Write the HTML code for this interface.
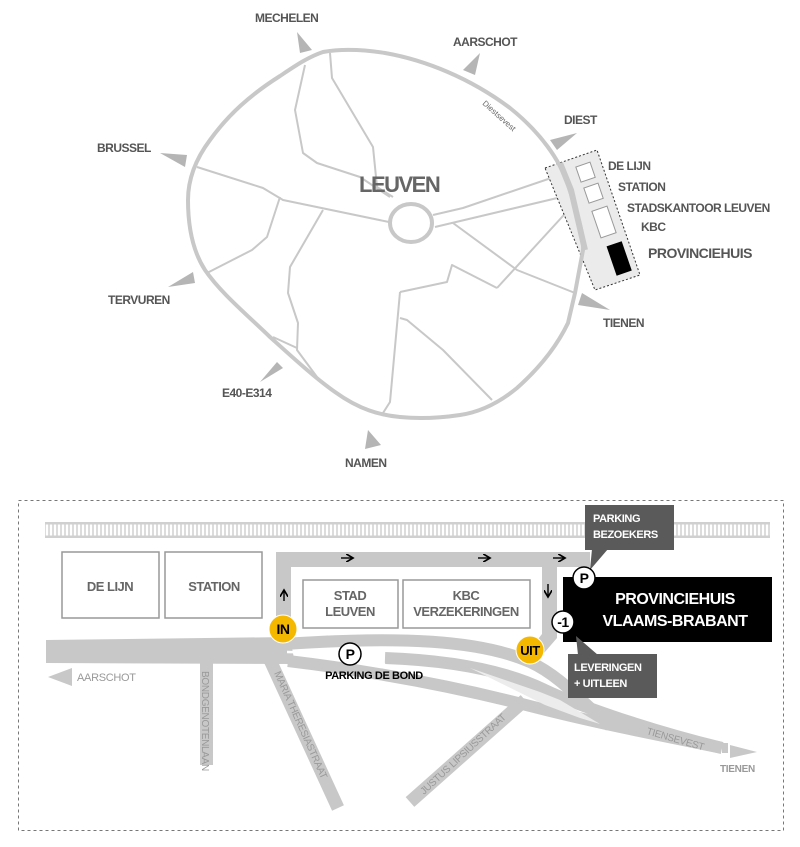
<!DOCTYPE html>
<html><head><meta charset="utf-8"><style>
html,body{margin:0;padding:0;background:#fff;}
svg{display:block;font-family:"Liberation Sans",Arial,sans-serif;}
</style></head><body>
<svg width="800" height="847" viewBox="0 0 800 847" xmlns="http://www.w3.org/2000/svg">
<defs>
<pattern id="rail" width="4" height="10" patternUnits="userSpaceOnUse"><rect width="4" height="10" fill="#fff"/><rect x="0" width="2" height="10" fill="#dcdcdc"/></pattern>
<marker id="ah" markerWidth="6" markerHeight="6" refX="5" refY="3" orient="auto"><path d="M0,0 L5,3 L0,6" fill="none" stroke="#000" stroke-width="1.2"/></marker>
</defs>
<!-- TOP MAP -->
<g fill="none" stroke="#c8c8c8" stroke-width="2" stroke-linejoin="round">
<polyline points="330,53 332,78 373,147 377,187 393,197"/>
<polyline points="305,65 295,110 303,153 317,163 360,177 390,197"/>
<polyline points="197,167 263,188 283,200 389,222"/>
<polyline points="280,197 267,237 252,250 207,273"/>
<polyline points="323,210 290,267 288,293 298,323 297,350 317,377"/>
<polyline points="273,337 297,348"/>
<polyline points="433,215 463,208 560,175"/>
<polyline points="435,227 570,195"/>
<polyline points="453,223 517,270 575,293"/>
<polyline points="497,288 573,205"/>
<polyline points="400,292 447,282 452,265 497,288"/>
<polyline points="400,292 390,402 383,413"/>
<polyline points="400,318 407,320 443,350 492,400"/>
</g>
<polygon points="545,168 597,150 640,275 595,290" fill="#ebebeb" stroke="#333" stroke-width="1" stroke-dasharray="2,2"/>
<path d="M323,52 C340,49 360,49 385,53 C425,60 470,78 510,108 C540,132 560,160 568,185 C576,210 584,232 583,250 L575,293 L568,323 C555,350 535,372 517,388 C500,402 480,412 460,415 C440,418 420,419 400,417 C380,415 360,410 335,392 C315,378 290,355 270,337 C245,313 220,292 205,270 C192,250 188,225 188,200 C188,180 195,160 210,140 C228,115 250,95 280,76 C295,66 308,57 323,52 Z" fill="none" stroke="#c8c8c8" stroke-width="4"/>
<polyline points="560,163 571,190 585,250" fill="none" stroke="#c8c8c8" stroke-width="6"/>
<ellipse cx="411" cy="223" rx="21" ry="19" fill="none" stroke="#c8c8c8" stroke-width="4"/>
<g transform="rotate(-19 586 172)"><rect x="578" y="164" width="15" height="16" fill="#fff" stroke="#999"/></g>
<g transform="rotate(-19 594 193)"><rect x="586" y="185" width="15" height="16" fill="#fff" stroke="#999"/></g>
<g transform="rotate(-19 604 222)"><rect x="596" y="208" width="16" height="28" fill="#fff" stroke="#999"/></g>
<g transform="rotate(-19 619 258)"><rect x="611" y="243" width="16" height="31" fill="#000"/></g>
<g fill="#b5b5b5">
<polygon points="297,32 312,50 300,53"/>
<polygon points="480,53 475,75 463,70"/>
<polygon points="577,133 557,150 550,140"/>
<polygon points="160,153 187,155 185,167"/>
<polygon points="193,272 195,283 168,287"/>
<polygon points="277,362 283,368 260,382"/>
<polygon points="368,430 381,445 365,449"/>
<polygon points="582,293 610,310 578,305"/>
</g>
<text x="359" y="192" font-size="22" font-weight="bold" fill="#666" letter-spacing="-1.5">LEUVEN</text>
<text x="482" y="104" font-size="8" fill="#666" transform="rotate(42 482 104)">Diestsevest</text>
<g font-size="12" font-weight="bold" fill="#555" letter-spacing="-0.5">
<text x="255" y="22">MECHELEN</text>
<text x="453" y="46">AARSCHOT</text>
<text x="564" y="124">DIEST</text>
<text x="97" y="152">BRUSSEL</text>
<text x="108" y="304">TERVUREN</text>
<text x="222" y="397">E40-E314</text>
<text x="345" y="467">NAMEN</text>
<text x="603" y="327">TIENEN</text>
<text x="608" y="170">DE LIJN</text>
<text x="618" y="191">STATION</text>
<text x="627" y="212">STADSKANTOOR LEUVEN</text>
<text x="641" y="231">KBC</text>
<text x="648" y="258" font-size="14">PROVINCIEHUIS</text>
</g>
<!-- BOTTOM MAP -->
<rect x="18.5" y="500.5" width="765" height="330" fill="none" stroke="#777" stroke-dasharray="3,3"/>
<rect x="45" y="522" width="725" height="16" fill="url(#rail)"/>
<rect x="45" y="522" width="725" height="2.5" fill="#d0d0d0"/>
<rect x="45" y="535.5" width="725" height="2.5" fill="#d0d0d0"/>
<g fill="#fff" stroke="#999" stroke-width="1.5">
<rect x="62" y="552" width="97" height="66"/>
<rect x="165" y="552" width="97" height="66"/>
<rect x="303" y="580" width="95" height="48"/>
<rect x="403" y="580" width="127" height="48"/>
</g>
<g fill="#c8c8c8">
<rect x="276" y="552" width="314" height="15"/>
<rect x="276" y="552" width="15" height="90"/>
<polygon points="542,552 557,552 557,638 538,660 528,652 542,634"/>
<rect x="200" y="660" width="13" height="105"/>
<polygon points="46,640 290,637 295,664 46,663"/>
</g>
<g fill="none" stroke="#c8c8c8" stroke-linecap="butt">
<line x1="270" y1="660" x2="338" y2="808" stroke-width="13"/>
<line x1="410" y1="802" x2="525" y2="700" stroke-width="13"/>
<path d="M285,644 C400,636 480,640 530,662 C560,676 580,700 610,726" stroke-width="12"/>
<path d="M288,661 C380,672 460,688 530,706 C600,724 660,735 722,748" stroke-width="12"/>
<path d="M385,658 C440,660 500,668 545,690 C570,702 640,728 722,748" stroke-width="12"/>
</g>
<polygon points="470,668 540,692 560,700 600,724 580,718 545,705" fill="#ececec"/>
<path d="M287,652 L380,654" stroke="#fff" stroke-width="2.5"/>
<path d="M385,650 C378,652 378,662 385,664" fill="none" stroke="#fff" stroke-width="2"/>
<polygon points="722,743 722,753 728,753 728,743" fill="#c8c8c8"/>
<polygon points="48,677 72,668 72,686" fill="#c8c8c8"/>
<polygon points="730,745 757,752 730,758" fill="#c8c8c8"/>
<g font-size="10" fill="#999" letter-spacing="-0.3">
<text x="77" y="681" font-size="11">AARSCHOT</text>
<text x="720" y="772" font-size="10" font-weight="bold">TIENEN</text>
<text x="646" y="734" transform="rotate(16 646 734)">TIENSEVEST</text>
<text x="202" y="671" transform="rotate(90 202 671)">BONDGENOTENLAAN</text>
<text x="274" y="673" transform="rotate(66 274 673)">MARIA THERESIASTRAAT</text>
<text x="424" y="795" transform="rotate(-43 424 795)">JUSTUS LIPSIUSSTRAAT</text>
</g>
<g font-size="13" font-weight="bold" fill="#666" text-anchor="middle" letter-spacing="-0.5">
<text x="110" y="591">DE LIJN</text>
<text x="214" y="591">STATION</text>
<text x="350" y="600">STAD</text>
<text x="350" y="616">LEUVEN</text>
<text x="466" y="600">KBC</text>
<text x="466" y="616">VERZEKERINGEN</text>
</g>
<g stroke="#000" stroke-width="1.4" marker-end="url(#ah)">
<line x1="341" y1="558" x2="353" y2="558"/>
<line x1="478" y1="558" x2="490" y2="558"/>
<line x1="553" y1="558" x2="565" y2="558"/>
<line x1="284" y1="601" x2="284" y2="590"/>
<line x1="548" y1="584" x2="548" y2="597"/>
</g>
<rect x="563" y="577" width="209" height="65" fill="#000"/>
<g font-size="16" font-weight="bold" fill="#fff" text-anchor="middle" letter-spacing="-0.5">
<text x="675" y="604">PROVINCIEHUIS</text>
<text x="675" y="626">VLAAMS-BRABANT</text>
</g>
<rect x="585" y="505" width="89" height="45" fill="#5a5a5a"/>
<polygon points="592,549 608,549 590,570" fill="#5a5a5a"/>
<rect x="568" y="654" width="89" height="44" fill="#5a5a5a"/>
<polygon points="576,636 578,655 598,655" fill="#5a5a5a"/>
<g font-size="11" font-weight="bold" fill="#fff" letter-spacing="-0.4">
<text x="593" y="522">PARKING</text><text x="593" y="538">BEZOEKERS</text>
<text x="574" y="671">LEVERINGEN</text><text x="574" y="687">+ UITLEEN</text>
</g>
<g stroke="#000" stroke-width="1.5" fill="#fff">
<circle cx="584" cy="578" r="11"/>
<circle cx="563" cy="622" r="11"/>
<circle cx="350" cy="654" r="11"/>
</g>
<circle cx="283" cy="629" r="14" fill="#f5b800" stroke="#fff" stroke-width="1"/>
<circle cx="530" cy="650" r="14" fill="#f5b800" stroke="#fff" stroke-width="1"/>
<g font-weight="bold" fill="#000" text-anchor="middle" letter-spacing="-0.5">
<text x="584" y="583" font-size="14">P</text>
<text x="563" y="627" font-size="14">-1</text>
<text x="350" y="659" font-size="14">P</text>
<text x="283" y="634" font-size="14">IN</text>
<text x="530" y="655" font-size="13">UIT</text>
<text x="374" y="679" font-size="11" letter-spacing="-0.4">PARKING DE BOND</text>
</g>
</svg>
</body></html>
